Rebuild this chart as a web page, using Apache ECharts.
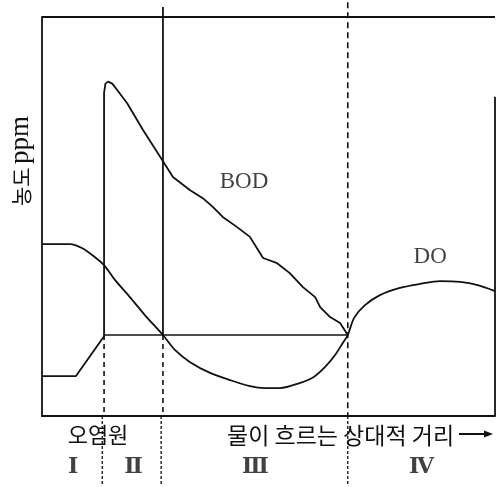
<!DOCTYPE html>
<html><head><meta charset="utf-8">
<script src="https://cdn.jsdelivr.net/npm/echarts@6/dist/echarts.min.js"></script>
<style>html,body{margin:0;padding:0;background:#fff}#c{width:497px;height:487px}</style>
</head><body><div id="c"></div>
<script>
// relative distance (0-100) and concentration (0-100)
const doDist = [0, 6.2, 8.8, 11.7, 13.7, 16.1, 19.4, 22.7, 26.7, 29.4, 32.7, 37.1, 41.5, 45.9, 49.2, 52.5, 57.0, 60.0, 62.5, 64.7, 66.4, 67.5, 68.9, 71.3, 74.6, 79.0, 83.4, 87.9, 92.3, 96.2, 100];
const doConc = [43.1, 43.1, 42.1, 39.8, 37.8, 34.1, 29.8, 25.3, 20.3, 16.5, 13.5, 10.8, 9.0, 7.5, 7.0, 7.0, 8.3, 9.8, 12.3, 15.3, 18.3, 20.3, 24.6, 27.8, 30.3, 32.1, 33.1, 33.8, 33.6, 32.8, 31.3];
const bodDist = [0, 7.5, 13.7, 13.7, 14.0, 14.6, 15.5, 16.6, 18.8, 22.3, 26.5, 28.9, 32.7, 35.5, 37.7, 39.9, 43.0, 45.9, 47.7, 48.8, 51.9, 54.7, 57.6, 60.3, 61.4, 63.6, 65.8, 67.5];
const bodConc = [10.0, 10.0, 20.0, 81.0, 83.3, 83.8, 83.3, 81.7, 78.4, 71.7, 64.2, 59.9, 56.6, 54.6, 52.4, 49.9, 47.4, 44.9, 41.6, 39.6, 38.3, 35.8, 32.3, 29.8, 27.3, 24.8, 23.3, 20.3];
const baseLevel = 20.3;            // level line between source and recovery point
const sectionBounds = [0, 13.7, 26.7, 67.5, 100];
const sectionLabels = ['Ⅰ', 'Ⅱ', 'Ⅲ', 'Ⅳ'];
const curveLabels = [['BOD', 44.6, 58.6], ['DO', 85.7, 39.8]];
const yName = '농도';
const yUnit = 'ppm';
const sourceLabel = '오염원';
const xName = '물이 흐르는 상대적 거리';

const zip = (xs, ys) => xs.map((x, i) => [x, ys[i]]);
const K = '#111';
function seg(data, type, width) {
  return { type: 'line', data: data, symbol: 'none', clip: false, silent: true,
    lineStyle: { color: K, width: width || 1.8, type: type || 'solid' } };
}
const series = [
  Object.assign(seg(zip(doDist, doConc)), { smooth: 0.3 }),
  seg(zip(bodDist, bodConc)),
  seg([[sectionBounds[1], baseLevel], [sectionBounds[3], baseLevel]], 'solid', 1.6),
  // frame top and right
  seg([[0, 100], [100, 100]]),
  seg([[100, 0], [100, 80]]),
  // section boundaries
  seg([[sectionBounds[2], 102.5], [sectionBounds[2], baseLevel]]),
  seg([[sectionBounds[1], baseLevel], [sectionBounds[1], 0]], [5, 4], 1.6),
  seg([[sectionBounds[2], baseLevel], [sectionBounds[2], 0]], [5, 4], 1.6),
  seg([[sectionBounds[3], 103.7], [sectionBounds[3], 0]], [6, 4], 1.6),
  seg([[sectionBounds[0] - 0.4, 0], [sectionBounds[0] - 0.4, -17.5]], [3, 2], 1.3),
  seg([[sectionBounds[1] - 0.4, 0], [sectionBounds[1] - 0.4, -17.5]], [3, 2], 1.3),
  seg([[sectionBounds[2] - 0.4, 0], [sectionBounds[2] - 0.4, -17.5]], [3, 2], 1.3),
  seg([[sectionBounds[3], 0], [sectionBounds[3], -17.5]], [3, 2], 1.3),
  { type: 'scatter', symbolSize: 0, clip: false, silent: true,
    data: sectionLabels.map((s, i) => ({ name: s, value: [(sectionBounds[i] + sectionBounds[i + 1]) / 2, -12.8] })),
    label: { show: true, position: 'inside', formatter: '{b}', color: K, fontSize: 22, fontWeight: 'bold', fontFamily: 'DejaVu Serif, Liberation Serif, serif' } },
  { type: 'scatter', symbolSize: 0, clip: false, silent: true,
    data: curveLabels.map(c => ({ name: c[0], value: [c[1], c[2]] })),
    label: { show: true, position: 'inside', formatter: '{b}', color: K, fontSize: 23, fontFamily: 'Liberation Serif, serif' } }
];

const chart = echarts.init(document.getElementById('c'), null, { renderer: 'canvas' });
chart.setOption({
  animation: false,
  backgroundColor: '#fff',
  grid: { left: 42, right: 2, top: 17, bottom: 71 },
  xAxis: { type: 'value', min: 0, max: 100, axisLine: { show: true, onZero: false, lineStyle: { color: K, width: 2 } },
    axisTick: { show: false }, axisLabel: { show: false }, splitLine: { show: false } },
  yAxis: { type: 'value', min: 0, max: 100, axisLine: { show: true, onZero: false, lineStyle: { color: K, width: 1.8 } },
    axisTick: { show: false }, axisLabel: { show: false }, splitLine: { show: false } },
  series: series,
  graphic: [
    { type: 'text', x: 21, y: 161, rotation: Math.PI / 2, silent: true,
      style: { text: '{a|' + yName + '} {b|' + yUnit + '}', align: 'center', verticalAlign: 'middle',
        rich: { a: { fontSize: 21, fontFamily: 'Noto Sans CJK KR', fill: K }, b: { fontSize: 27, fontFamily: 'Liberation Serif', fill: K } } } },
    { type: 'text', x: 98, y: 435, silent: true,
      style: { text: sourceLabel, align: 'center', verticalAlign: 'middle', fontSize: 22, fontFamily: 'Noto Sans CJK KR', fill: K } },
    { type: 'text', x: 227, y: 435, silent: true,
      style: { text: xName, align: 'left', verticalAlign: 'middle', fontSize: 23, fontFamily: 'Noto Sans CJK KR', fill: K } },
    { type: 'line', silent: true, shape: { x1: 459, y1: 434, x2: 486, y2: 434 }, style: { stroke: K, lineWidth: 2 } },
    { type: 'polygon', silent: true, shape: { points: [[484, 430.5], [493, 434], [484, 437.5]] }, style: { fill: K } }
  ]
});
</script></body></html>
